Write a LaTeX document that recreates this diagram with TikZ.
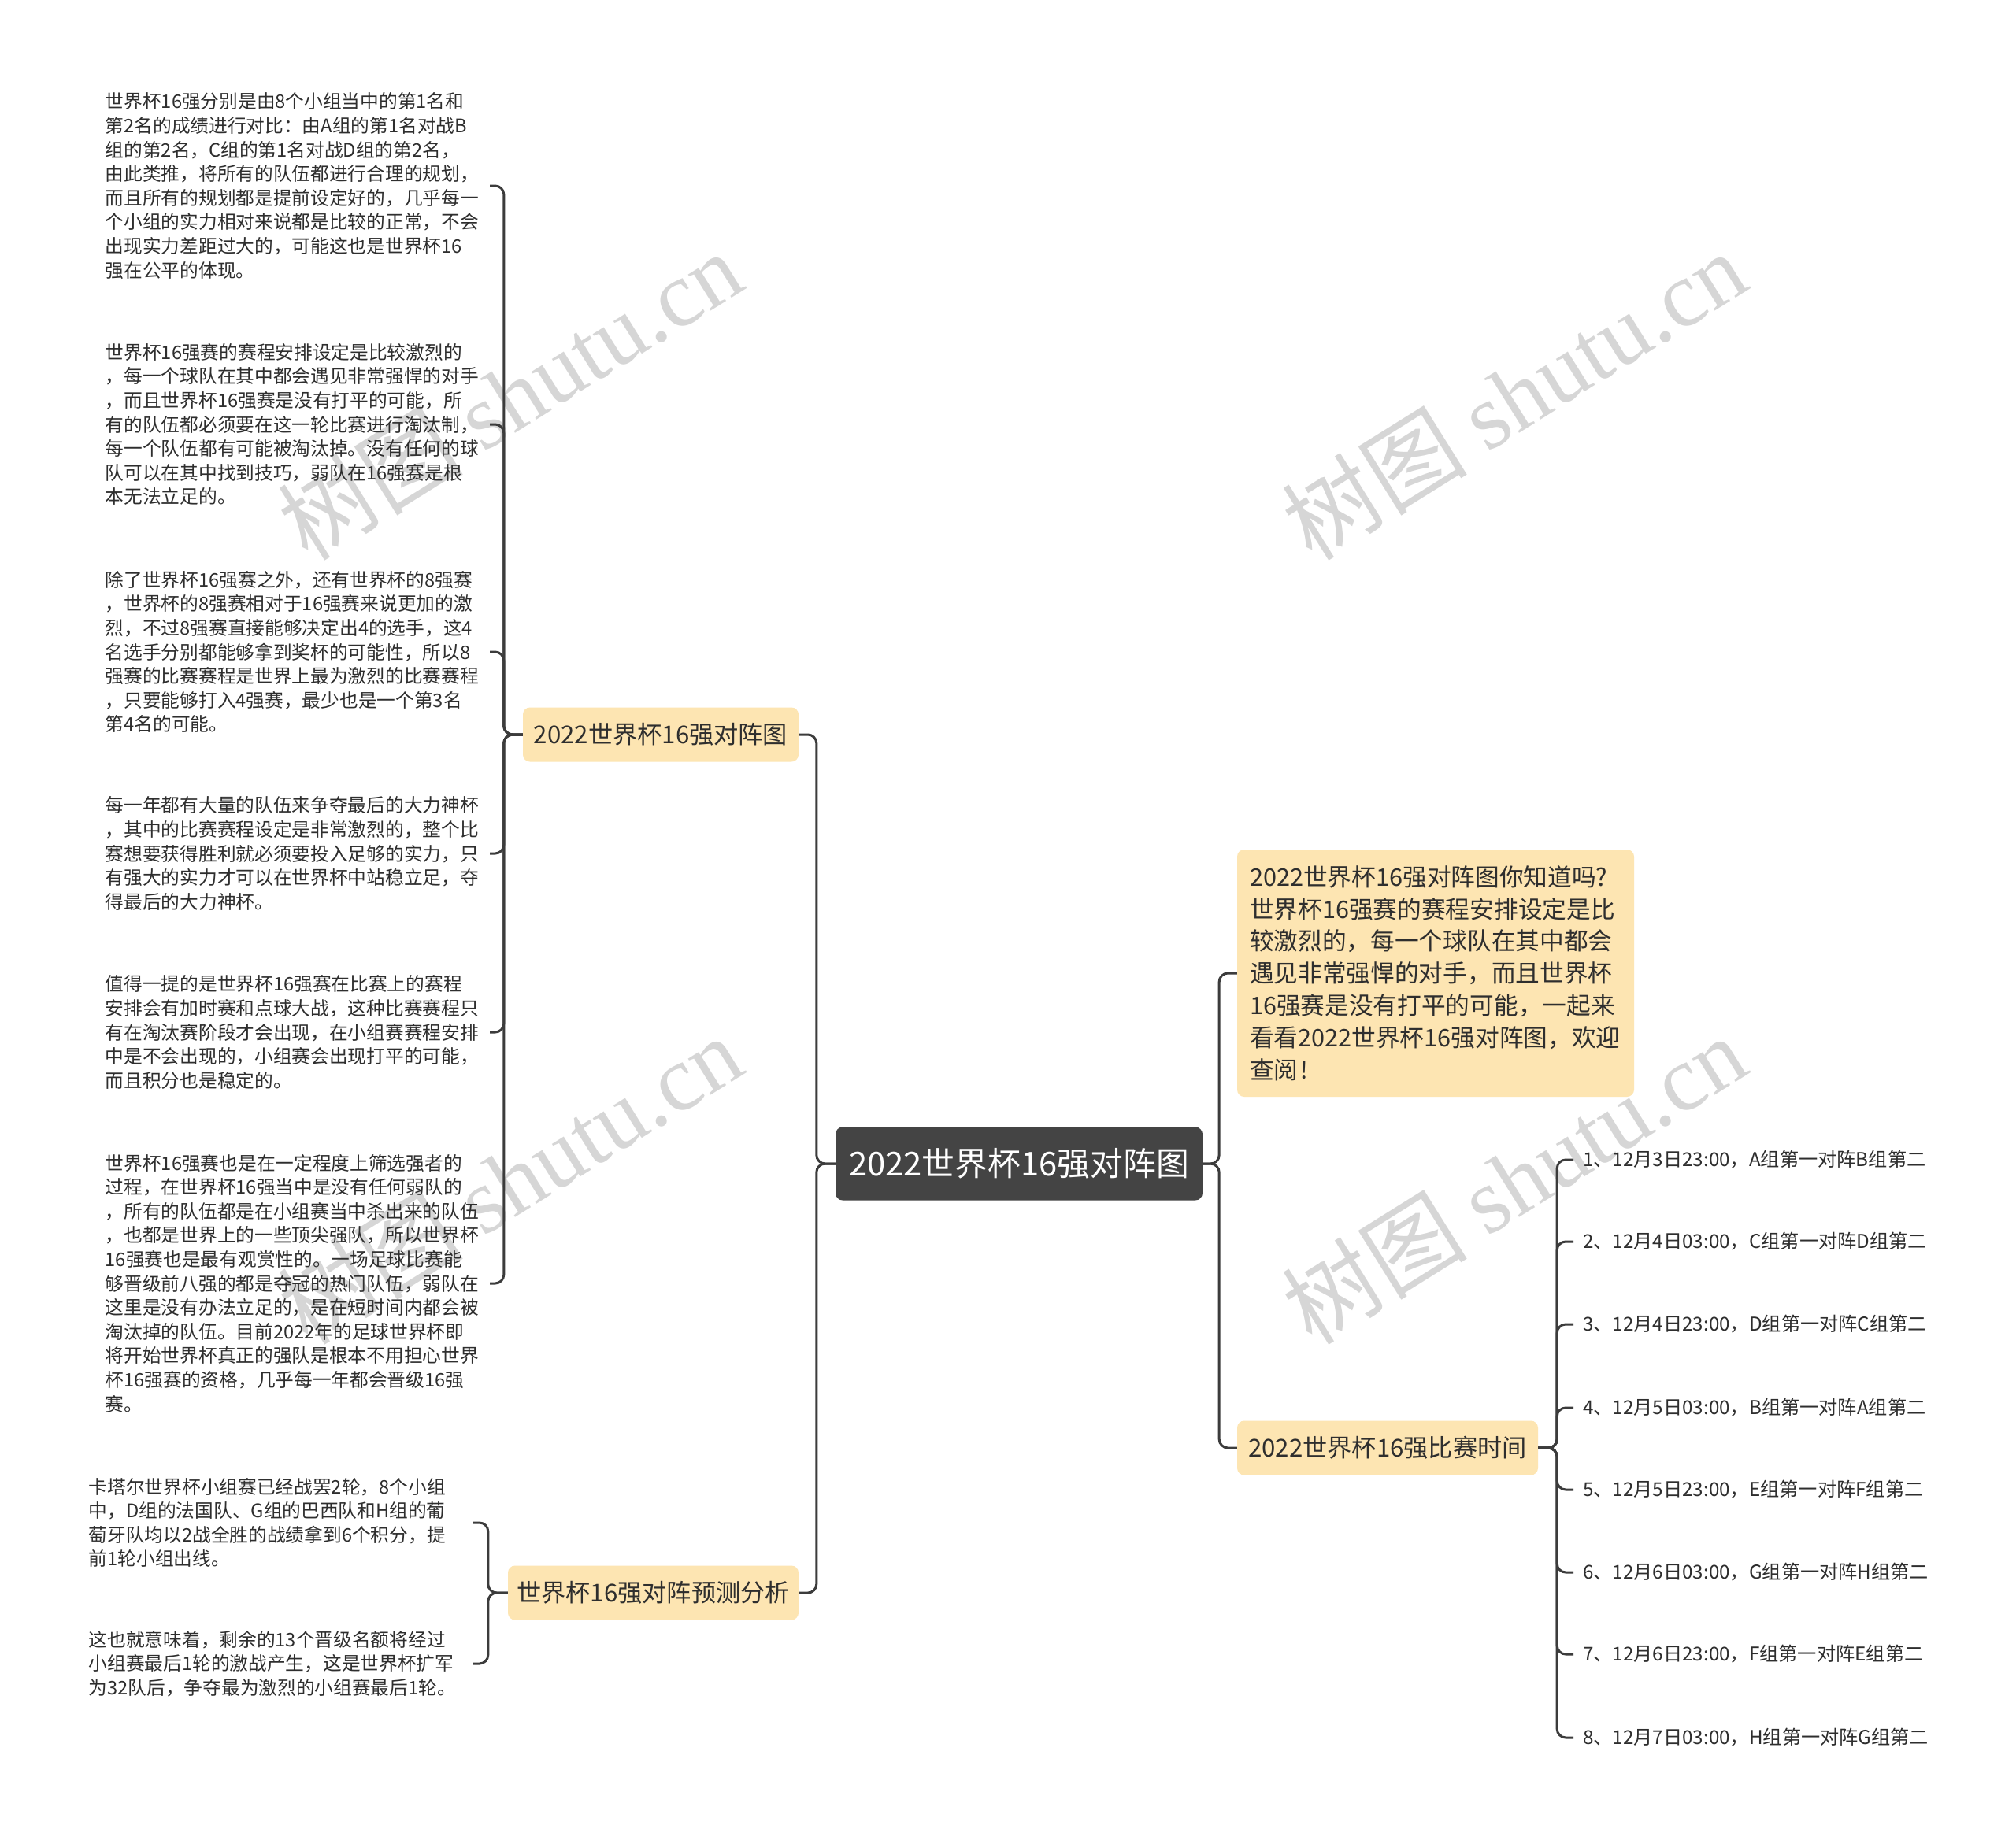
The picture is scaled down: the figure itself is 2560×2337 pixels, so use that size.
\documentclass[tikz,border=0pt]{standalone}
\usepackage{fontspec}
\setmainfont{Noto Sans CJK SC}
\newfontfamily\wmserif{Liberation Serif}
\usetikzlibrary{calc}
\definecolor{rootgray}{HTML}{444444}
\definecolor{peach}{HTML}{FDE5B2}
\definecolor{linegray}{HTML}{3C3C3C}
\definecolor{txt}{HTML}{2E2E2E}
\definecolor{wmgray}{HTML}{D6D6D6}
\tikzset{
  rootbox/.style={fill=rootgray, text=white, rounded corners=9pt, font=\fontsize{41.8}{48}\selectfont, minimum width=466pt, minimum height=93pt, inner sep=0pt},
  topic/.style={fill=peach, text=txt, rounded corners=9pt, font=\fontsize{31.2}{40.8}\selectfont, minimum height=69pt, inner sep=0pt},
  leaf/.style={text=txt, font=\fontsize{23.7}{30.6}\selectfont, align=left, text width=488pt, inner sep=0pt, anchor=east},
  item/.style={text=txt, font=\fontsize{24.2}{30}\selectfont, anchor=west, inner xsep=12pt, inner ysep=0pt},
  link/.style={draw=linegray, line width=3pt, rounded corners=11pt},
  wm/.style={text=wmgray, font=\fontsize{118}{126}\selectfont, rotate=32, inner sep=0pt},
}
\begin{document}
\begin{tikzpicture}[x=1pt,y=-1pt]
\fill[white] (0,0) rectangle (2560,2337);
% watermarks
\node[wm] (wm1) at (647,502) {树图 {\wmserif shutu.cn}};
\node[wm] (wm2) at (1922,502) {树图 {\wmserif shutu.cn}};
\node[wm] (wm3) at (647,1498) {树图 {\wmserif shutu.cn}};
\node[wm] (wm4) at (1922,1498) {树图 {\wmserif shutu.cn}};

% root
\node[rootbox] (root) at (1294,1478) {2022世界杯16强对阵图};

% level 1
\node[topic, minimum width=350pt] (t1) at (839,933) {2022世界杯16强对阵图};
\node[topic, minimum width=369pt] (t2) at (829.5,2023) {世界杯16强对阵预测分析};
\node[topic, minimum width=504pt, minimum height=314pt, text width=472pt, align=left, font=\fontsize{30.7}{40.8}\selectfont] (t3) at (1823,1236) {2022世界杯16强对阵图你知道吗?\\世界杯16强赛的赛程安排设定是比\\较激烈的，每一个球队在其中都会\\遇见非常强悍的对手，而且世界杯\\16强赛是没有打平的可能，一起来\\看看2022世界杯16强对阵图，欢迎\\查阅！};
\node[topic, minimum width=382pt] (t4) at (1762,1839) {2022世界杯16强比赛时间};

% leaves of t1
\node[leaf] (l1) at (622,236) {世界杯16强分别是由8个小组当中的第1名和\\第2名的成绩进行对比：由A组的第1名对战B\\组的第2名，C组的第1名对战D组的第2名，\\由此类推，将所有的队伍都进行合理的规划，\\而且所有的规划都是提前设定好的，几乎每一\\个小组的实力相对来说都是比较的正常，不会\\出现实力差距过大的，可能这也是世界杯16\\强在公平的体现。};
\node[leaf] (l2) at (622,539) {世界杯16强赛的赛程安排设定是比较激烈的\\，每一个球队在其中都会遇见非常强悍的对手\\，而且世界杯16强赛是没有打平的可能，所\\有的队伍都必须要在这一轮比赛进行淘汰制，\\每一个队伍都有可能被淘汰掉。没有任何的球\\队可以在其中找到技巧，弱队在16强赛是根\\本无法立足的。};
\node[leaf] (l3) at (622,828) {除了世界杯16强赛之外，还有世界杯的8强赛\\，世界杯的8强赛相对于16强赛来说更加的激\\烈，不过8强赛直接能够决定出4的选手，这4\\名选手分别都能够拿到奖杯的可能性，所以8\\强赛的比赛赛程是世界上最为激烈的比赛赛程\\，只要能够打入4强赛，最少也是一个第3名\\第4名的可能。};
\node[leaf] (l4) at (622,1084) {每一年都有大量的队伍来争夺最后的大力神杯\\，其中的比赛赛程设定是非常激烈的，整个比\\赛想要获得胜利就必须要投入足够的实力，只\\有强大的实力才可以在世界杯中站稳立足，夺\\得最后的大力神杯。};
\node[leaf] (l5) at (622,1311) {值得一提的是世界杯16强赛在比赛上的赛程\\安排会有加时赛和点球大战，这种比赛赛程只\\有在淘汰赛阶段才会出现，在小组赛赛程安排\\中是不会出现的，小组赛会出现打平的可能，\\而且积分也是稳定的。};
\node[leaf] (l6) at (622,1630) {世界杯16强赛也是在一定程度上筛选强者的\\过程，在世界杯16强当中是没有任何弱队的\\，所有的队伍都是在小组赛当中杀出来的队伍\\，也都是世界上的一些顶尖强队，所以世界杯\\16强赛也是最有观赏性的。一场足球比赛能\\够晋级前八强的都是夺冠的热门队伍，弱队在\\这里是没有办法立足的，是在短时间内都会被\\淘汰掉的队伍。目前2022年的足球世界杯即\\将开始世界杯真正的强队是根本不用担心世界\\杯16强赛的资格，几乎每一年都会晋级16强\\赛。};

% leaves of t2
\node[leaf] (l7) at (601,1934) {卡塔尔世界杯小组赛已经战罢2轮，8个小组\\中，D组的法国队、G组的巴西队和H组的葡\\萄牙队均以2战全胜的战绩拿到6个积分，提\\前1轮小组出线。};
\node[leaf] (l8) at (601,2113) {这也就意味着，剩余的13个晋级名额将经过\\小组赛最后1轮的激战产生，这是世界杯扩军\\为32队后，争夺最为激烈的小组赛最后1轮。};

% schedule items
\node[item] (s1) at (1998,1473) {1、12月3日23:00，A组第一对阵B组第二};
\node[item] (s2) at (1998,1577) {2、12月4日03:00，C组第一对阵D组第二};
\node[item] (s3) at (1998,1682) {3、12月4日23:00，D组第一对阵C组第二};
\node[item] (s4) at (1998,1788) {4、12月5日03:00，B组第一对阵A组第二};
\node[item] (s5) at (1998,1892) {5、12月5日23:00，E组第一对阵F组第二};
\node[item] (s6) at (1998,1997) {6、12月6日03:00，G组第一对阵H组第二};
\node[item] (s7) at (1998,2101) {7、12月6日23:00，F组第一对阵E组第二};
\node[item] (s8) at (1998,2207) {8、12月7日03:00，H组第一对阵G组第二};

% connectors root
\foreach \t in {t1,t2} \draw[link] (root.west) -- ++(-24,0) |- (\t.east);
\foreach \t in {t3,t4} \draw[link] (root.east) -- ++(21,0) |- (\t.west);
% connectors to leaves
\foreach \l in {l1,l2,l3,l4,l5,l6} \draw[link] (t1.west) -- ++(-24,0) |- (\l.east);
\foreach \l in {l7,l8} \draw[link] (t2.west) -- ++(-25,0) |- (\l.east);
\foreach \s in {s1,s2,s3,s4,s5,s6,s7,s8} \draw[link] (t4.east) -- ++(24,0) |- (\s.west);
\end{tikzpicture}
\end{document}
